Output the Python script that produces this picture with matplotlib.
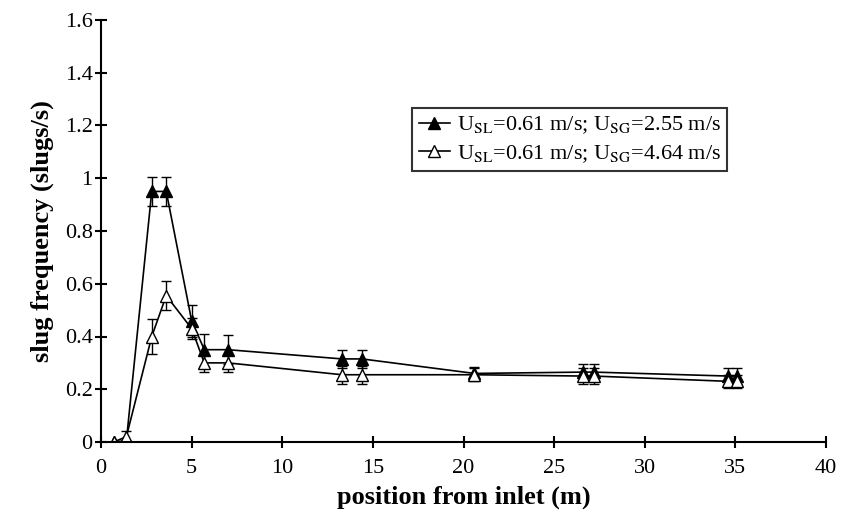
import numpy as np
import matplotlib
matplotlib.use("Agg")
import matplotlib.pyplot as plt

# data
position = [0.7, 1.4, 2.8, 3.6, 5.0, 5.7, 7.0, 13.3, 14.4, 20.6, 26.6, 27.2, 34.6, 35.1]
freq_255 = [0.0, 0.005, 0.95, 0.95, 0.46, 0.35, 0.35, 0.315, 0.315, 0.26, 0.265, 0.265, 0.25, 0.25]
err_255 = [0.0, 0.0, 0.055, 0.055, 0.06, 0.06, 0.055, 0.035, 0.035, 0.025, 0.03, 0.03, 0.03, 0.03]
freq_464 = [0.0, 0.02, 0.40, 0.555, 0.43, 0.30, 0.30, 0.255, 0.255, 0.255, 0.25, 0.25, 0.23, 0.23]
err_464 = [0.0, 0.02, 0.065, 0.055, 0.04, 0.035, 0.035, 0.035, 0.035, 0.025, 0.03, 0.03, 0.025, 0.025]

labels = [r'U$_{\mathrm{SL}}$=0.61 m/s; U$_{\mathrm{SG}}$=2.55 m/s',
          r'U$_{\mathrm{SL}}$=0.61 m/s; U$_{\mathrm{SG}}$=4.64 m/s']

plt.rcParams['font.family'] = ['Liberation Serif', 'DejaVu Serif']
plt.rcParams['mathtext.fontset'] = 'stix'

fig = plt.figure(figsize=(8.41, 5.18), dpi=100)
ax = fig.add_axes([101 / 841, 1 - 442 / 518, 725 / 841, 422 / 518])

# error bars first, then lines with markers (legend shows only line + marker)
for y, e, fill, lab in [(freq_255, err_255, 'black', labels[0]),
                        (freq_464, err_464, 'white', labels[1])]:
    ax.errorbar(position, y, yerr=e, fmt='none', ecolor='black',
                capsize=3.5, elinewidth=1, capthick=1)
    ax.plot(position, y, color='black', lw=1.2, marker='^', ms=8,
            mfc=fill, mec='black', mew=1, label=lab)

ax.set_xlim(0, 40)
ax.set_ylim(0, 1.6)
ax.set_xticks(np.arange(0, 41, 5))
ax.set_yticks(np.arange(0, 1.61, 0.2))
ax.set_yticklabels(['0', '0.2', '0.4', '0.6', '0.8', '1', '1.2', '1.4', '1.6'])
ax.tick_params(labelsize=16, width=1.5, length=8, direction='inout')
ax.tick_params(axis='y', pad=2)
ax.tick_params(axis='x', pad=8)

for side in ['top', 'right']:
    ax.spines[side].set_visible(False)
for side in ['left', 'bottom']:
    ax.spines[side].set_linewidth(1.5)

ax.set_xlabel('position from inlet (m)', fontsize=19, fontweight='bold', labelpad=6)
ax.set_ylabel('slug frequency (slugs/s)', fontsize=19, fontweight='bold', labelpad=8)

leg = ax.legend(loc='upper left', bbox_to_anchor=(300 / 725, (442 - 97) / 422),
                fontsize=16, frameon=True, fancybox=False, handlelength=1.4,
                handletextpad=0.3, borderpad=0.3, labelspacing=0.3)
leg.get_frame().set_edgecolor('black')
leg.get_frame().set_linewidth(1.5)

plt.savefig('out.png', dpi=100)
